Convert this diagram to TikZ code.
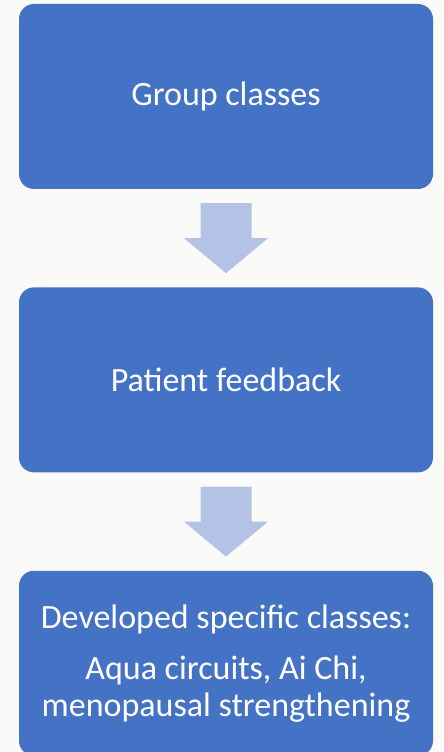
\documentclass[tikz,border=0pt]{standalone}
\usepackage{fontspec}
\setmainfont{Carlito}
\usetikzlibrary{positioning,calc}
\definecolor{boxblue}{HTML}{4472C4}
\definecolor{arrowblue}{HTML}{B4C3E5}
\definecolor{pagegray}{HTML}{FAFAF8}

\begin{document}
\begin{tikzpicture}[x=1pt,y=1pt,
    classbox/.style={fill=boxblue, rounded corners=15pt, minimum width=414pt, minimum height=185pt,
        inner sep=0pt, text=white, align=center, font=\fontsize{34}{37}\selectfont},
    blockarrow/.style={fill=arrowblue}]
    % Draw the background
    \fill[pagegray] (0,0) rectangle (444,752);
    \useasboundingbox (0,0) rectangle (444,752);

    % Add the three boxes
    \node[classbox] (group) at (226,655.5) {Group classes};
    \node[classbox, below=98pt of group] (feedback) {Patient feedback};
    \node[classbox, below=98pt of feedback] (specific) {Developed specific classes:\\[14pt]Aqua circuits, Ai Chi,\\menopausal strengthening};

    % Add the arrows between them
    \coordinate (midA) at ($(group.south)!0.5!(feedback.north)$);
    \coordinate (midB) at ($(feedback.south)!0.5!(specific.north)$);
    \foreach \m in {midA,midB}
        \fill[blockarrow] ($(\m)+(-25.5,35)$) -- ++(51,0) -- ++(0,-35) -- ++(16.5,0)
            -- ++(-42,-35) -- ++(-42,35) -- ++(16.5,0) -- cycle;
\end{tikzpicture}
\end{document}
